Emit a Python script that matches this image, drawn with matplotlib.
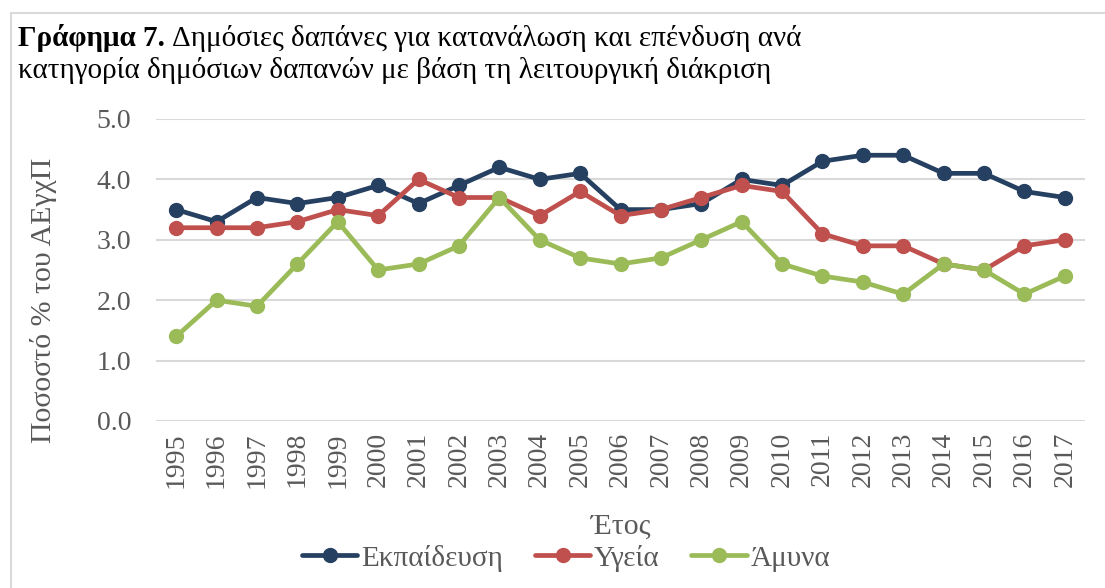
import matplotlib.pyplot as plt
from matplotlib.patches import Rectangle

# Data
years = [str(y) for y in range(1995, 2018)]
education = [3.5, 3.3, 3.7, 3.6, 3.7, 3.9, 3.6, 3.9, 4.2, 4.0, 4.1, 3.5,
             3.5, 3.6, 4.0, 3.9, 4.3, 4.4, 4.4, 4.1, 4.1, 3.8, 3.7]
health = [3.2, 3.2, 3.2, 3.3, 3.5, 3.4, 4.0, 3.7, 3.7, 3.4, 3.8, 3.4,
          3.5, 3.7, 3.9, 3.8, 3.1, 2.9, 2.9, 2.6, 2.5, 2.9, 3.0]
defense = [1.4, 2.0, 1.9, 2.6, 3.3, 2.5, 2.6, 2.9, 3.7, 3.0, 2.7, 2.6,
           2.7, 3.0, 3.3, 2.6, 2.4, 2.3, 2.1, 2.6, 2.5, 2.1, 2.4]
series_names = ['Εκπαίδευση', 'Υγεία', 'Άμυνα']
yticks = [0.0, 1.0, 2.0, 3.0, 4.0, 5.0]

plt.rcParams['font.family'] = ['Liberation Serif', 'DejaVu Serif']

W, H = 1105, 588
fig = plt.figure(figsize=(W / 100, H / 100), dpi=100)
ax = fig.add_axes([156 / W, 1 - 421 / H, 929 / W, 302 / H])

colors = ['#254061', '#C0504D', '#9BBB59']
x = range(len(years))
for vals, name, c in zip([education, health, defense], series_names, colors):
    ax.plot(x, vals, color=c, lw=3.4, marker='o', ms=10, label=name,
            solid_capstyle='round')

ax.set_xlim(-0.5, len(years) - 0.5)
ax.set_ylim(0, 5)
ax.set_yticks(yticks)
ax.set_yticklabels([f'{v:.1f}' for v in yticks])
ax.set_xticks(list(x))
ax.set_xticklabels(years, rotation=90)
ax.tick_params(axis='both', length=0, labelsize=20, colors='#595959')
ax.tick_params(axis='y', pad=18)
ax.tick_params(axis='x', pad=8)
ax.grid(axis='y', color='#D9D9D9', lw=1.5)
ax.set_axisbelow(True)
for s in ax.spines.values():
    s.set_visible(False)

fig.text(44 / W, 1 - 300 / H, 'Ποσοστό % του ΑΕγχΠ', fontsize=21.5,
         color='#595959', rotation=90, ha='center', va='center')
fig.text(621 / W, 1 - 527 / H, 'Έτος', fontsize=21.5, color='#595959',
         ha='center', va='center')

leg = fig.legend(loc='center', bbox_to_anchor=(566 / W, 1 - 558 / H), ncol=3,
                 frameon=False, fontsize=21, handlelength=1.9,
                 columnspacing=1.1, handletextpad=0.12, borderpad=0)
for t in leg.get_texts():
    t.set_color('#595959')

# Title: bold prefix, then regular text right after it
t1 = fig.text(18 / W, 1 - 46 / H, 'Γράφημα 7.', fontsize=21, fontweight='bold',
              ha='left', va='baseline')
fig.canvas.draw()
bb = t1.get_window_extent()
fig.text((bb.x1 + 7) / W, 1 - 46 / H,
         'Δημόσιες δαπάνες για κατανάλωση και επένδυση ανά',
         fontsize=21, ha='left', va='baseline')
fig.text(18 / W, 1 - 78 / H,
         'κατηγορία δημόσιων δαπανών με βάση τη λειτουργική διάκριση',
         fontsize=21, ha='left', va='baseline')

fig.patches.append(Rectangle((11 / W, -0.1), 1.2, 1 - 13 / H + 0.1,
                             transform=fig.transFigure, fill=False,
                             edgecolor='#D9D9D9', lw=1.5))

plt.savefig('out.png', dpi=100)
plt.close()
